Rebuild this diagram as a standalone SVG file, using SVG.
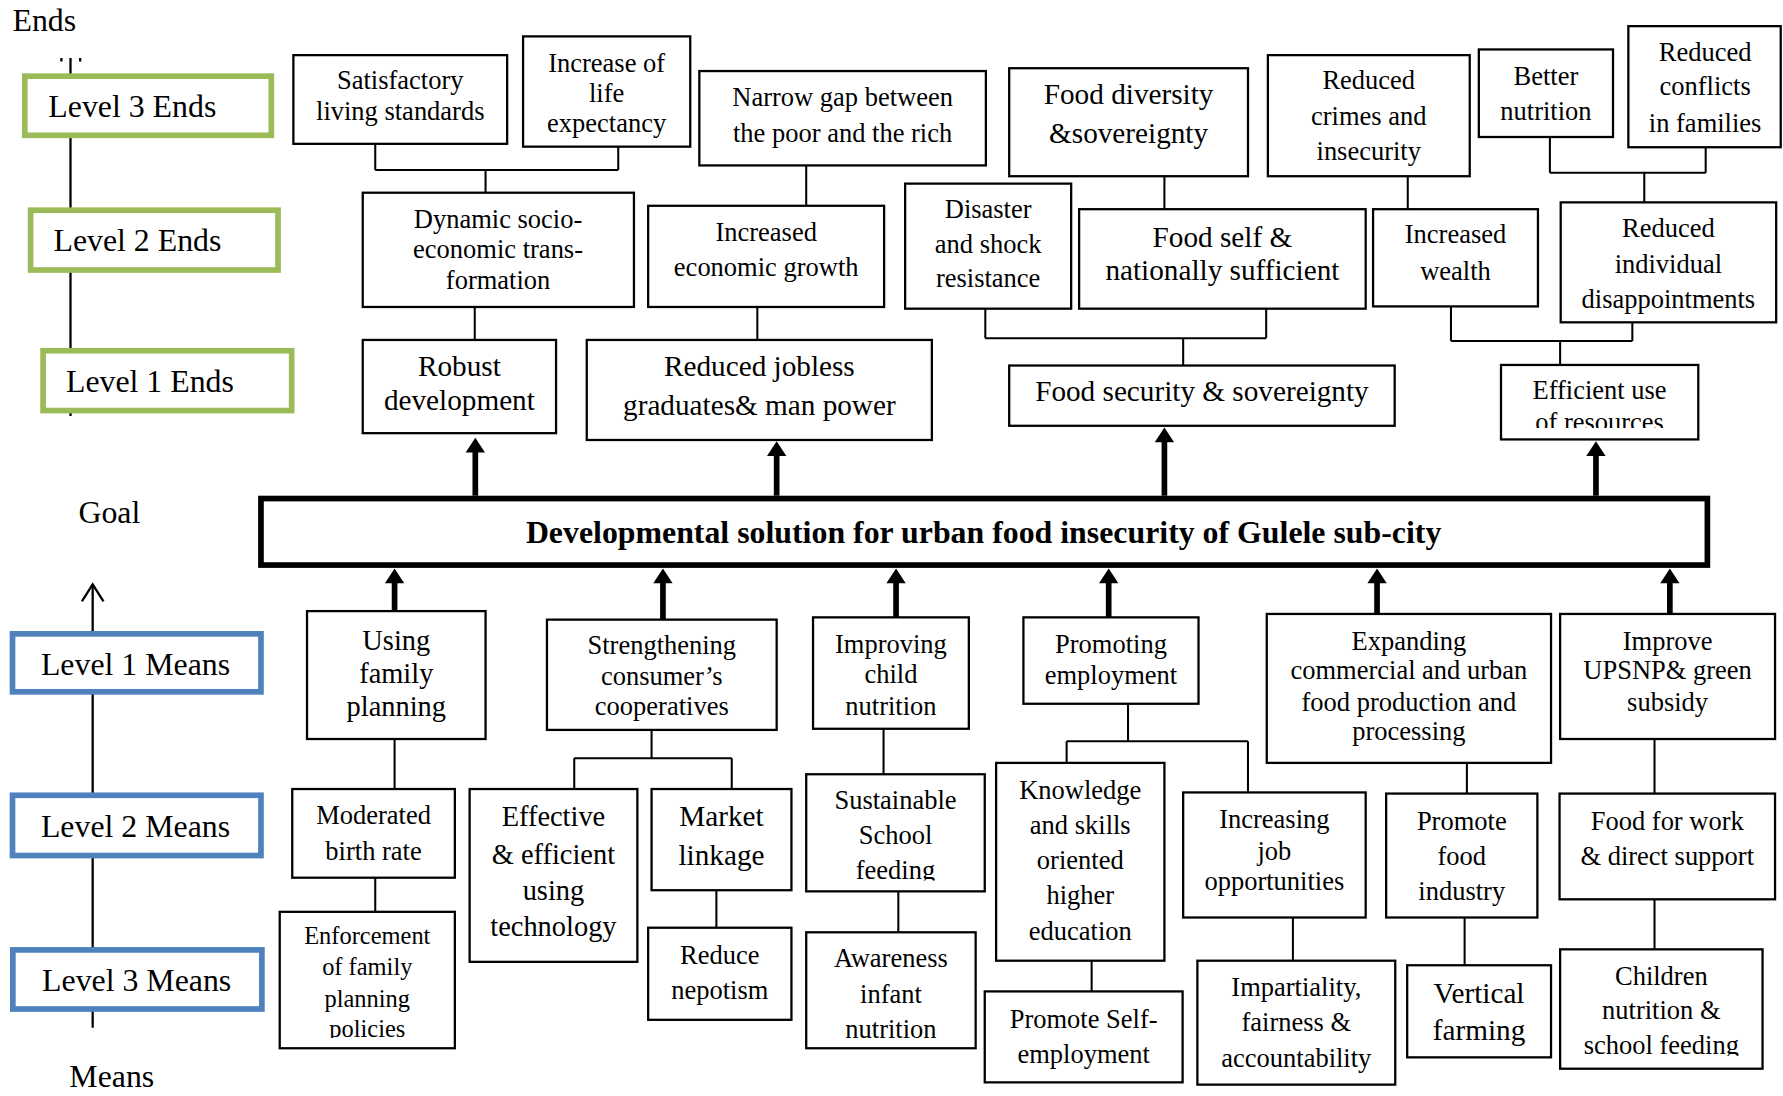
<svg xmlns="http://www.w3.org/2000/svg" width="1783" height="1096" viewBox="0 0 1783 1096">
<defs>
<style>
.box{fill:#fff;stroke:#000;stroke-width:2}
.t{font-family:"Liberation Serif","Times New Roman",serif;font-size:23.3px;text-anchor:middle;fill:#000}
.tl{font-size:25.7px}
.ts{font-size:21.5px}
.tm{font-size:25px}
.leg{font-family:"Liberation Serif","Times New Roman",serif;font-size:28px;fill:#000}
.goalt{font-family:"Liberation Serif","Times New Roman",serif;font-size:28px;font-weight:bold;text-anchor:middle;fill:#000}
.ln{stroke:#000;stroke-width:1.8;fill:none}
.lg{stroke:#000;stroke-width:2;fill:none}
.gr{fill:#fff;stroke:#9BBB59;stroke-width:5}
.bl{fill:#fff;stroke:#4F81BD;stroke-width:5}
.shaft{stroke:#000;stroke-width:5;fill:none}
.head{fill:#000}
</style>
<clipPath id="cEff"><rect x="1320" y="321" width="174" height="55.5"/></clipPath>
<clipPath id="cEnf"><rect x="246" y="802" width="154" height="111"/></clipPath>
<clipPath id="cSus"><rect x="709" y="681" width="157" height="93.5"/></clipPath>
<clipPath id="cChi"><rect x="1372" y="835" width="178" height="93.5"/></clipPath>
</defs>
<rect x="0" y="0" width="1783" height="1096" fill="#fff"/>
<g transform="scale(1.13712,1.13693)">

<g id="legend">
<path class="lg" d="M62,51 V366"/>
<path class="lg" d="M54,51 V54 M70.5,51 V54"/>
<path class="lg" d="M81.5,514 V904"/>
<path class="lg" d="M72,529 L81.5,514 L91,529"/>
<text class="leg" x="11" y="27">Ends</text>
<rect class="gr" x="21.8" y="67" width="216.8" height="52"/>
<text class="leg" x="42.5" y="103">Level 3 Ends</text>
<rect class="gr" x="26.9" y="184.9" width="217.6" height="52.6"/>
<text class="leg" x="47" y="221">Level 2 Ends</text>
<rect class="gr" x="37.9" y="308.5" width="218.6" height="52.6"/>
<text class="leg" x="58" y="345">Level 1 Ends</text>
<text class="leg" x="69" y="460">Goal</text>
<rect class="bl" x="11" y="557.5" width="218.5" height="51"/>
<text class="leg" x="36" y="594">Level 1 Means</text>
<rect class="bl" x="11" y="699.5" width="218.5" height="53"/>
<text class="leg" x="36" y="736">Level 2 Means</text>
<rect class="bl" x="11.3" y="835.5" width="219" height="52"/>
<text class="leg" x="37" y="871.5">Level 3 Means</text>
<text class="leg" x="61" y="956">Means</text>
</g>

<g id="connectors">
<path class="ln" d="M330,127 V149.5 M543.7,129 V149.5 M330,149.5 H543.7 M427,149.5 V169.5"/>
<path class="ln" d="M709,145.5 V181"/>
<path class="ln" d="M1024,155 V184"/>
<path class="ln" d="M1238,155 V184"/>
<path class="ln" d="M1363,120.5 V152 M1500,129.5 V152 M1363,152 H1500 M1446,152 V178"/>
<path class="ln" d="M417.5,270 V299"/>
<path class="ln" d="M666,270 V299"/>
<path class="ln" d="M866.5,271.5 V297.5 M1113.5,271.5 V297.5 M866.5,297.5 H1113.5 M1040.5,297.5 V321.5"/>
<path class="ln" d="M1276,269.5 V300 M1435.5,283.5 V300 M1276,300 H1435.5 M1372,300 V321"/>
<path class="ln" d="M347,650 V694"/>
<path class="ln" d="M573,642 V667 M505,667 H643.5 M505,667 V694 M643.5,667 V694"/>
<path class="ln" d="M777,641 V681"/>
<path class="ln" d="M992,619 V652 M938,652 H1097.5 M938,652 V671 M1097.5,652 V697"/>
<path class="ln" d="M1290,671 V698"/>
<path class="ln" d="M1455,650 V698"/>
<path class="ln" d="M330,772 V802"/>
<path class="ln" d="M630,783 V816"/>
<path class="ln" d="M790,784 V820"/>
<path class="ln" d="M960,845 V872"/>
<path class="ln" d="M1137,807 V845"/>
<path class="ln" d="M1288,807 V849"/>
<path class="ln" d="M1455,791 V835"/>
<path class="shaft" d="M418,436 V396"/><polygon class="head" points="409.5,398 418,385 426.5,398"/>
<path class="shaft" d="M683,436 V399"/><polygon class="head" points="674.5,401 683,388 691.5,401"/>
<path class="shaft" d="M1024,436 V387"/><polygon class="head" points="1015.5,389 1024,376 1032.5,389"/>
<path class="shaft" d="M1403.5,436 V399"/><polygon class="head" points="1395,401 1403.5,388 1412,401"/>
<path class="shaft" d="M347,537.5 V511"/><polygon class="head" points="338.5,513 347,500 355.5,513"/>
<path class="shaft" d="M583,545 V511"/><polygon class="head" points="574.5,513 583,500 591.5,513"/>
<path class="shaft" d="M788,543 V511"/><polygon class="head" points="779.5,513 788,500 796.5,513"/>
<path class="shaft" d="M975,543 V511"/><polygon class="head" points="966.5,513 975,500 983.5,513"/>
<path class="shaft" d="M1211,540 V511"/><polygon class="head" points="1202.5,513 1211,500 1219.5,513"/>
<path class="shaft" d="M1468.5,540 V511"/><polygon class="head" points="1460,513 1468.5,500 1477,513"/>
</g>

<g id="goal">
<rect x="229.5" y="438.5" width="1272" height="58.5" fill="#fff" stroke="#000" stroke-width="5"/>
<text class="goalt" x="865" y="477.6">Developmental solution for urban food insecurity of Gulele sub-city</text>
</g>

<g id="n-satisfactory"><rect class="box" x="258" y="48.5" width="188" height="78"/>
<text class="t" x="352" y="78.6">Satisfactory</text><text class="t" x="352" y="105.5">living standards</text></g>
<g id="n-life"><rect class="box" x="460" y="32" width="147" height="97"/>
<text class="t" x="533.5" y="63">Increase of</text><text class="t" x="533.5" y="89.4">life</text><text class="t" x="533.5" y="115.8">expectancy</text></g>
<g id="n-narrow"><rect class="box" x="615" y="62.5" width="252" height="83"/>
<text class="t" x="741" y="93.2">Narrow gap between</text><text class="t" x="741" y="124.6">the poor and the rich</text></g>
<g id="n-fooddiv"><rect class="box" x="887.5" y="60" width="210" height="95"/>
<text class="t tl" x="992.5" y="91.5">Food diversity</text><text class="t tl" x="992.5" y="125.5">&amp;sovereignty</text></g>
<g id="n-crimes"><rect class="box" x="1115" y="48.5" width="177.5" height="106.5"/>
<text class="t" x="1203.7" y="78.6">Reduced</text><text class="t" x="1203.7" y="110">crimes and</text><text class="t" x="1203.7" y="140.7">insecurity</text></g>
<g id="n-better"><rect class="box" x="1300.5" y="43.5" width="118" height="77"/>
<text class="t" x="1359.5" y="74.8">Better</text><text class="t" x="1359.5" y="105.5">nutrition</text></g>
<g id="n-conflicts"><rect class="box" x="1432" y="23" width="134" height="106.5"/>
<text class="t" x="1499.5" y="53.6">Reduced</text><text class="t" x="1499.5" y="84">conflicts</text><text class="t" x="1499.5" y="115.8">in families</text></g>

<g id="n-dynamic"><rect class="box" x="319" y="169.5" width="238.5" height="100.5"/>
<text class="t" x="438" y="200.8">Dynamic socio-</text><text class="t" x="438" y="227">economic trans-</text><text class="t" x="438" y="254.5">formation</text></g>
<g id="n-econgrowth"><rect class="box" x="570" y="181" width="207.5" height="89"/>
<text class="t" x="673.8" y="211.7">Increased</text><text class="t" x="673.8" y="242.7">economic growth</text></g>
<g id="n-disaster"><rect class="box" x="796" y="161.5" width="146" height="110"/>
<text class="t" x="869" y="192">Disaster</text><text class="t" x="869" y="222.8">and shock</text><text class="t" x="869" y="252.7">resistance</text></g>
<g id="n-foodself"><rect class="box" x="949" y="184" width="252" height="87.5"/>
<text class="t tl" x="1075" y="217">Food self &amp;</text><text class="t tl" x="1075" y="246">nationally sufficient</text></g>
<g id="n-wealth"><rect class="box" x="1207.5" y="184" width="145" height="85.5"/>
<text class="t" x="1280" y="214">Increased</text><text class="t" x="1280" y="246">wealth</text></g>
<g id="n-disappoint"><rect class="box" x="1372.5" y="178" width="189.5" height="105.5"/>
<text class="t" x="1467.2" y="208.7">Reduced</text><text class="t" x="1467.2" y="239.8">individual</text><text class="t" x="1467.2" y="271">disappointments</text></g>

<g id="n-robust"><rect class="box" x="319" y="299" width="170" height="82"/>
<text class="t tl" x="404" y="331">Robust</text><text class="t tl" x="404" y="361">development</text></g>
<g id="n-jobless"><rect class="box" x="516" y="299" width="303.5" height="88"/>
<text class="t tl" x="667.8" y="330.7">Reduced jobless</text><text class="t tl" x="667.8" y="365">graduates&amp; man power</text></g>
<g id="n-foodsec"><rect class="box" x="887.5" y="321.5" width="339" height="53"/>
<text class="t tl" x="1057" y="353">Food security &amp; sovereignty</text></g>
<g id="n-efficient"><rect class="box" x="1320" y="321" width="173.5" height="65.5"/>
<text class="t" x="1406.7" y="351">Efficient use</text><text class="t" x="1406.7" y="379" clip-path="url(#cEff)">of resources</text></g>

<g id="n-familyplan"><rect class="box" x="270" y="537.5" width="157" height="112.5"/>
<text class="t tm" x="348.5" y="571.7">Using</text><text class="t tm" x="348.5" y="601">family</text><text class="t tm" x="348.5" y="630">planning</text></g>
<g id="n-coop"><rect class="box" x="481" y="545" width="202" height="97"/>
<text class="t" x="582" y="575.5">Strengthening</text><text class="t" x="582" y="602.6">consumer’s</text><text class="t" x="582" y="629">cooperatives</text></g>
<g id="n-childnut"><rect class="box" x="715" y="543" width="137" height="98"/>
<text class="t" x="783.5" y="574.4">Improving</text><text class="t" x="783.5" y="601">child</text><text class="t" x="783.5" y="629">nutrition</text></g>
<g id="n-employ"><rect class="box" x="900" y="543" width="154" height="76"/>
<text class="t" x="977" y="574.4">Promoting</text><text class="t" x="977" y="602">employment</text></g>
<g id="n-expand"><rect class="box" x="1114" y="540" width="250" height="131"/>
<text class="t" x="1239" y="571.7">Expanding</text><text class="t" x="1239" y="597.5">commercial and urban</text><text class="t" x="1239" y="625">food production and</text><text class="t" x="1239" y="651">processing</text></g>
<g id="n-upsnp"><rect class="box" x="1372" y="540" width="189" height="110"/>
<text class="t" x="1466.5" y="571.7">Improve</text><text class="t" x="1466.5" y="597.5">UPSNP&amp; green</text><text class="t" x="1466.5" y="625">subsidy</text></g>

<g id="n-birthrate"><rect class="box" x="257" y="694" width="143" height="78"/>
<text class="t" x="328.5" y="725">Moderated</text><text class="t" x="328.5" y="756.4">birth rate</text></g>
<g id="n-technology"><rect class="box" x="413" y="694" width="147.5" height="152"/>
<text class="t tm" x="486.7" y="726.6">Effective</text><text class="t tm" x="486.7" y="760">&amp; efficient</text><text class="t tm" x="486.7" y="791.6">using</text><text class="t tm" x="486.7" y="823">technology</text></g>
<g id="n-market"><rect class="box" x="573" y="694" width="123" height="89"/>
<text class="t tl" x="634.5" y="726.6">Market</text><text class="t tl" x="634.5" y="760.7">linkage</text></g>
<g id="n-schoolfeed"><rect class="box" x="709" y="681" width="157" height="103"/>
<text class="t" x="787.5" y="712">Sustainable</text><text class="t" x="787.5" y="742.4">School</text><text class="t" x="787.5" y="773" clip-path="url(#cSus)">feeding</text></g>
<g id="n-knowledge"><rect class="box" x="876" y="671" width="148" height="174"/>
<text class="t" x="950" y="702.8">Knowledge</text><text class="t" x="950" y="734">and skills</text><text class="t" x="950" y="764.5">oriented</text><text class="t" x="950" y="795">higher</text><text class="t" x="950" y="826.6">education</text></g>
<g id="n-jobs"><rect class="box" x="1040.5" y="697" width="160.5" height="110"/>
<text class="t" x="1120.7" y="728.7">Increasing</text><text class="t" x="1120.7" y="756.4">job</text><text class="t" x="1120.7" y="783">opportunities</text></g>
<g id="n-foodindustry"><rect class="box" x="1219" y="698" width="133" height="109"/>
<text class="t" x="1285.5" y="730">Promote</text><text class="t" x="1285.5" y="760.7">food</text><text class="t" x="1285.5" y="792">industry</text></g>
<g id="n-foodwork"><rect class="box" x="1371.5" y="698" width="189.5" height="93"/>
<text class="t" x="1466.2" y="730">Food for work</text><text class="t" x="1466.2" y="760.7">&amp; direct support</text></g>

<g id="n-enforce"><rect class="box" x="246" y="802" width="154" height="120"/>
<text class="t ts" x="323" y="830">Enforcement</text><text class="t ts" x="323" y="858">of family</text><text class="t ts" x="323" y="885.6">planning</text><text class="t ts" x="323" y="912.5" clip-path="url(#cEnf)">policies</text></g>
<g id="n-nepotism"><rect class="box" x="570" y="816" width="126" height="81"/>
<text class="t" x="633" y="848">Reduce</text><text class="t" x="633" y="878.3">nepotism</text></g>
<g id="n-infant"><rect class="box" x="709" y="820" width="149" height="102"/>
<text class="t" x="783.5" y="850.5">Awareness</text><text class="t" x="783.5" y="882">infant</text><text class="t" x="783.5" y="912.7">nutrition</text></g>
<g id="n-selfemp"><rect class="box" x="866" y="872" width="174" height="80"/>
<text class="t" x="953" y="904">Promote Self-</text><text class="t" x="953" y="935">employment</text></g>
<g id="n-impartial"><rect class="box" x="1053" y="845" width="174" height="109"/>
<text class="t" x="1140" y="876.4">Impartiality,</text><text class="t" x="1140" y="907">fairness &amp;</text><text class="t" x="1140" y="938.5">accountability</text></g>
<g id="n-vertical"><rect class="box" x="1237.5" y="849" width="126.5" height="81"/>
<text class="t tl" x="1300.7" y="882">Vertical</text><text class="t tl" x="1300.7" y="915">farming</text></g>
<g id="n-children"><rect class="box" x="1372" y="835" width="178" height="105"/>
<text class="t" x="1461" y="866">Children</text><text class="t" x="1461" y="896.7">nutrition &amp;</text><text class="t" x="1461" y="927.5" clip-path="url(#cChi)">school feeding</text></g>

</g>
</svg>
